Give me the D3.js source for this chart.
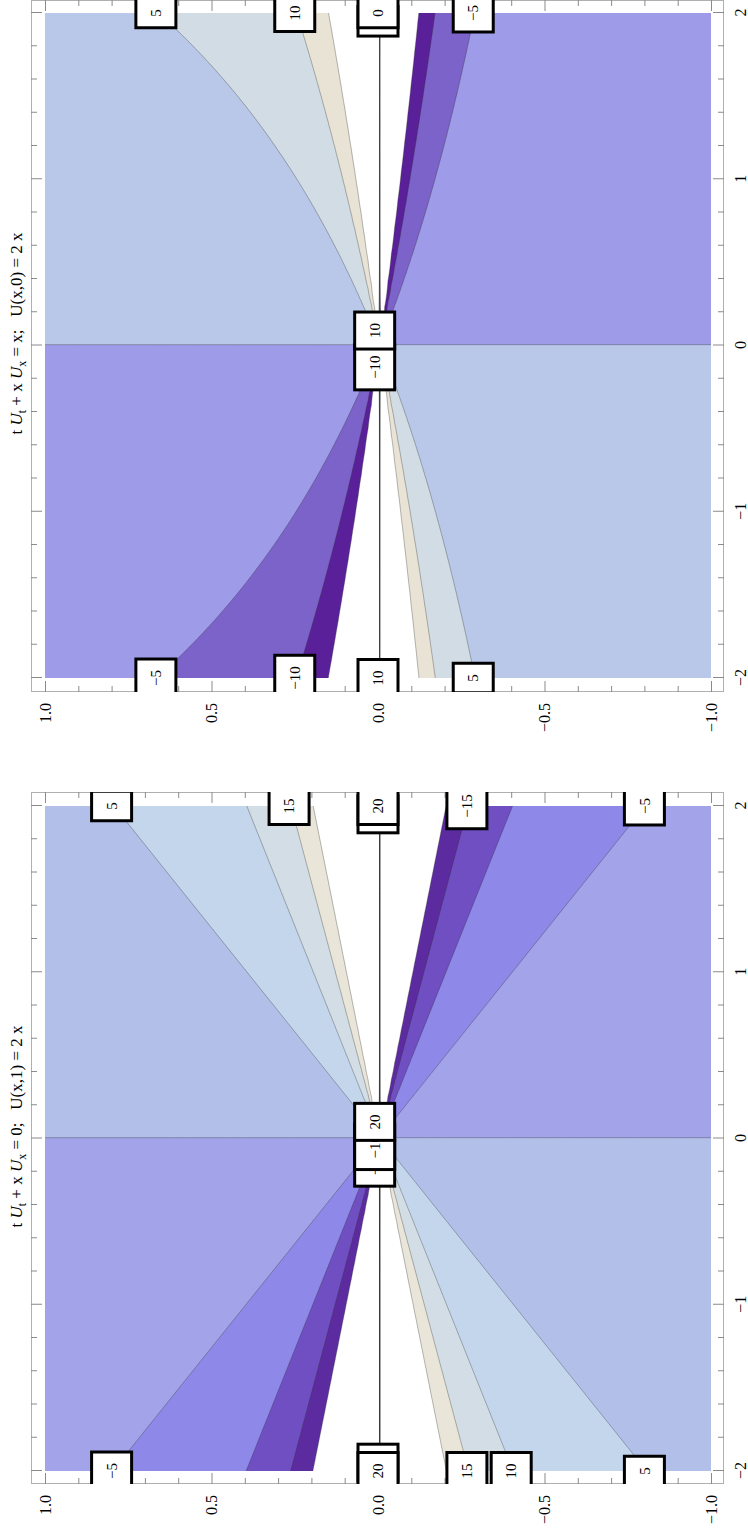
<!DOCTYPE html>
<html>
<head>
<meta charset="utf-8">
<script src="https://cdn.jsdelivr.net/npm/d3@7"></script>
<style>
  body { margin: 0; background: #fff; }
  text { font-family: "Liberation Serif", "DejaVu Serif", serif; }
</style>
</head>
<body>
<svg id="chart" width="748" height="1532"></svg>
<script>
// ---- contour levels and band colours -------------------------------------
const levelsA = [-20, -15, -10, -5, 0, 5, 10, 15, 20];
const colorsA = ["#5d2ba0", "#6f4fc2", "#8e88e8", "#a2a3e8", "#b2bfe8", "#c3d6ec", "#d2dde5", "#e9e5d9"];
const levelsB = [-15, -10, -5, 0, 5, 10, 15];
const colorsB = ["#5a209a", "#7c63ca", "#9e9ce9", "#b9c7e9", "#d1dce4", "#e9e3d5"];

// ---- axis tick labels -----------------------------------------------------
const xTicks = [-2, -1, 0, 1, 2];
const tTicks = [-1, -0.5, 0, 0.5, 1];

// ---- contour labels: position (x, t) and the level they name --------------
const labelsA = [
  { x: 2, t: 0.8, v: 5 }, { x: 2, t: 0.267, v: 15 },
  { x: 1.95, t: 0, v: 20 }, { x: 2, t: 0, v: 20 },
  { x: 2, t: -0.267, v: -15 }, { x: 2, t: -0.8, v: -5 },
  { x: -2, t: 0.8, v: -5 },
  { x: -1.95, t: 0, v: 20 }, { x: -2, t: 0, v: 20 },
  { x: -2, t: -0.267, v: 15 }, { x: -2, t: -0.4, v: 10 }, { x: -2, t: -0.8, v: 5 },
  { x: -0.15, t: 0.01, v: -15 }, { x: -0.05, t: 0.01, v: -10 }, { x: 0.1, t: 0.01, v: 20 }
];
const labelsB = [
  { x: 2, t: 0.667, v: 5 }, { x: 2, t: 0.25, v: 10 },
  { x: 1.95, t: 0, v: 0 }, { x: 2, t: 0, v: 0 },
  { x: 2, t: -0.286, v: -5 },
  { x: -2, t: 0.667, v: -5 }, { x: -2, t: 0.25, v: -10 },
  { x: -2, t: 0, v: 10 }, { x: -2, t: -0.286, v: 5 },
  { x: -0.13, t: 0.01, v: -10 }, { x: 0.09, t: 0.01, v: 10 }
];

// ---- solutions of the two first-order PDEs --------------------------------
const solA = (x, t) => 2 * x / t;      // t U_t + x U_x = 0
const solB = (x, t) => x + x / t;      // t U_t + x U_x = x

const panels = [
  { key: "a", eq: "0", ic: "U(x,1) = 2 x", sol: solA, levels: levelsA, colors: colorsA, labels: labelsA,
    plotX: [61, 726], frameX: [48, 740] },
  { key: "b", eq: "x", ic: "U(x,0) = 2 x", sol: solB, levels: levelsB, colors: colorsB, labels: labelsB,
    plotX: [854, 1519], frameX: [840, 1532] }
];
const plotY = [45, 711];
const frameY = [31, 724];

// the page is a landscape figure turned a quarter turn
const svg = d3.select("#chart");
const root = svg.append("g").attr("transform", "translate(0,1532) rotate(-90)");

// sampling grid, slightly larger than the plotted window
const gx0 = -2.1, gdx = 0.01, nx = 421;
const gt0 = 1.1, gdt = 0.01, nt = 220;
const gridX = i => gx0 + i * gdx;
const gridT = j => gt0 - (j + 0.5) * gdt;

const fmtMinus = s => String(s).replace("-", "\u2212");

panels.forEach(p => {
  const x = d3.scaleLinear().domain([-2, 2]).range(p.plotX);
  const y = d3.scaleLinear().domain([1, -1]).range(plotY);
  const g = root.append("g");

  const values = new Float64Array(nx * nt);
  for (let j = 0; j < nt; ++j)
    for (let i = 0; i < nx; ++i)
      values[j * nx + i] = p.sol(gridX(i), gridT(j));

  const bands = d3.contours().size([nx, nt]).thresholds(p.levels)(values);
  const path = d3.geoPath(d3.geoTransform({
    point(cx, cy) { this.stream.point(x(gx0 + cx * gdx), y(gt0 - (cy + 0.5) * gdt)); }
  }));

  const clipId = "clip-" + p.key;
  g.append("clipPath").attr("id", clipId).append("rect")
    .attr("x", p.plotX[0]).attr("y", plotY[0])
    .attr("width", p.plotX[1] - p.plotX[0]).attr("height", plotY[1] - plotY[0]);

  const plot = g.append("g").attr("clip-path", `url(#${clipId})`);
  plot.append("rect").attr("x", p.plotX[0]).attr("y", plotY[0])
    .attr("width", p.plotX[1] - p.plotX[0]).attr("height", plotY[1] - plotY[0]).attr("fill", "#fff");

  plot.selectAll("path.band").data(bands).join("path")
    .attr("class", "band")
    .attr("d", path)
    .attr("fill", (d, k) => k < p.colors.length ? p.colors[k] : "#fff");

  plot.selectAll("path.iso").data(bands).join("path")
    .attr("class", "iso")
    .attr("d", path)
    .attr("fill", "none")
    .attr("stroke", "#333")
    .attr("stroke-opacity", 0.5)
    .attr("stroke-width", 0.7);

  // frame
  g.append("rect")
    .attr("x", p.frameX[0] + 0.5).attr("y", frameY[0] + 0.5)
    .attr("width", p.frameX[1] - p.frameX[0] - 1).attr("height", frameY[1] - frameY[0] - 1)
    .attr("fill", "none").attr("stroke", "#b0b0b0").attr("stroke-width", 1);

  const xMinor = x.ticks(20).filter(v => !xTicks.includes(v));
  const yMinor = y.ticks(20).filter(v => !tTicks.some(m => Math.abs(m - v) < 1e-9));

  const styleAxis = sel => {
    sel.select(".domain").remove();
    sel.selectAll(".tick line").attr("stroke", "#8a8a8a");
    sel.selectAll(".tick text").attr("fill", "#000")
      .style("font-family", "'Liberation Serif', serif").style("font-size", "16px");
  };
  const addAxis = (axisFn, scale, vals, size, fmt, tr) => {
    g.append("g").attr("transform", tr)
      .call(axisFn(scale).tickValues(vals).tickSizeInner(size).tickSizeOuter(0)
        .tickPadding(11).tickFormat(fmt))
      .call(styleAxis);
  };
  const noLabel = () => "";
  // bottom and top
  addAxis(d3.axisBottom, x, xTicks, -11, d => fmtMinus(d), `translate(0,${frameY[1]})`);
  addAxis(d3.axisBottom, x, xMinor, -6, noLabel, `translate(0,${frameY[1]})`);
  addAxis(d3.axisTop, x, xTicks, -11, noLabel, `translate(0,${frameY[0]})`);
  addAxis(d3.axisTop, x, xMinor, -6, noLabel, `translate(0,${frameY[0]})`);
  // left and right
  addAxis(d3.axisLeft, y, tTicks, -11, d => fmtMinus(d3.format(".1f")(d)), `translate(${p.frameX[0]},0)`);
  addAxis(d3.axisLeft, y, yMinor, -6, noLabel, `translate(${p.frameX[0]},0)`);
  addAxis(d3.axisRight, y, tTicks, -11, noLabel, `translate(${p.frameX[1]},0)`);
  addAxis(d3.axisRight, y, yMinor, -6, noLabel, `translate(${p.frameX[1]},0)`);
  g.selectAll(".tick text").filter(function () { return this.textContent === ""; }).remove();

  // title
  const cx = (p.plotX[0] + p.plotX[1]) / 2 + 12;
  const title = g.append("text").attr("x", cx).attr("y", 22)
    .attr("text-anchor", "middle").style("font-size", "17px");
  title.append("tspan").text("t ");
  title.append("tspan").attr("font-style", "italic").text("U");
  title.append("tspan").attr("font-size", "12px").attr("dy", 4).text("t");
  title.append("tspan").attr("dy", -4).text(" + x ");
  title.append("tspan").attr("font-style", "italic").text("U");
  title.append("tspan").attr("font-size", "12px").attr("dy", 4).text("x");
  title.append("tspan").attr("dy", -4).text(` = ${p.eq};\u2002 ${p.ic}`);

  // contour labels
  const lclip = "lclip-" + p.key;
  g.append("clipPath").attr("id", lclip).append("rect")
    .attr("x", p.frameX[0]).attr("y", frameY[0])
    .attr("width", p.frameX[1] - p.frameX[0]).attr("height", frameY[1] - frameY[0]);
  const lab = g.append("g").attr("clip-path", `url(#${lclip})`);
  p.labels.forEach(d => {
    const lg = lab.append("g").attr("transform", `translate(${x(d.x)},${y(d.t)})`);
    const rect = lg.append("rect");
    const txt = lg.append("text").attr("text-anchor", "middle").attr("dy", "0.34em")
      .style("font-size", "15px").text(fmtMinus(d.v));
    const w = txt.node().getBBox().width + 22;
    const h = 40;
    rect.attr("x", -w / 2).attr("y", -h / 2).attr("width", w).attr("height", h)
      .attr("fill", "#fff").attr("stroke", "#000").attr("stroke-width", 3);
  });
});
</script>
</body>
</html>
